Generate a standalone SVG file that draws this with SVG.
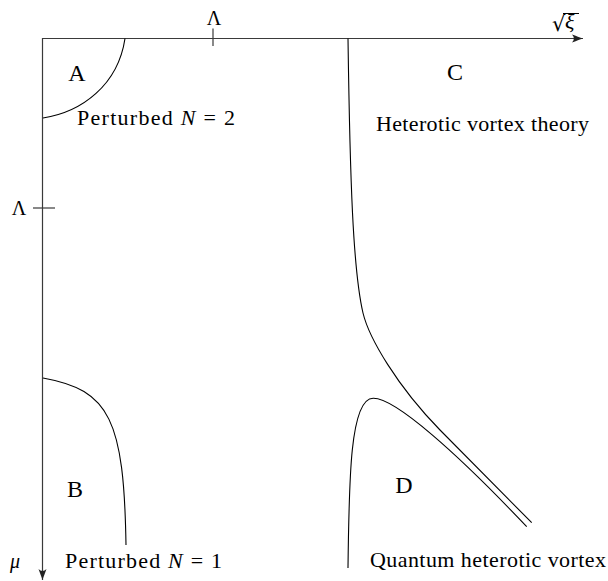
<svg xmlns="http://www.w3.org/2000/svg" width="608" height="581" viewBox="0 0 608 581">
<style>
.axis{stroke:#3a3a3a;stroke-width:1.2;fill:none}
.curve{stroke:#000;stroke-width:1.1;fill:none}
.reg{font-family:"Liberation Serif","Times New Roman",serif;font-size:24px;fill:#000;text-anchor:middle}
.lbl{font-family:"Liberation Serif","Times New Roman",serif;font-size:22px;fill:#000}
.sym{font-family:"Liberation Serif","Times New Roman",serif;font-size:20px;fill:#000;text-anchor:middle}
.it{font-style:italic}
</style>
<defs>
<marker id="arr" markerUnits="userSpaceOnUse" markerWidth="14" markerHeight="10" refX="12" refY="5" orient="auto" overflow="visible">
<path d="M12,5 C9,4 5,2.5 1,1 C3.5,3.5 3.5,6.5 1,9 C5,7.5 9,6 12,5 Z" fill="#222"/>
</marker>
</defs>
<g id="axes">
<line class="axis" x1="42.5" y1="38.5" x2="583" y2="38.5" marker-end="url(#arr)"/>
<line class="axis" x1="42.5" y1="38" x2="42.5" y2="580" marker-end="url(#arr)"/>
<line class="axis" x1="213" y1="28.5" x2="213" y2="46"/>
<line class="axis" x1="33" y1="208" x2="55" y2="208"/>
<text class="sym" x="214" y="25">Λ</text>
<text class="sym" x="19" y="215">Λ</text>
<text class="sym it" x="15" y="568">μ</text>
<g id="sqrtxi">
<text x="552" y="31" style="font-family:'DejaVu Serif',serif;font-size:21px">√</text>
<line x1="563" y1="13.5" x2="579" y2="13.5" stroke="#000" stroke-width="1"/>
<text class="it" x="565" y="29" style="font-family:'Liberation Serif',serif;font-size:22px">ξ</text>
</g>
</g>
<g id="connectors">
<path class="curve" d="M125,38.5 C118,85 82,112 43,118"/>
<path class="curve" d="M43,378 C110,390 124,420 126,545"/>
<path class="curve" d="M348,38.5 C350,180 353,270 363,313 C369,338 397,386 440,430 L531.7,522.7"/>
<path class="curve" d="M348,568 C349,480 350,398 373.3,398.3 C395,398 456.7,452.7 526.7,526.7"/>
</g>
<g id="regionA"><text class="reg" x="77" y="81">A</text>
<text class="lbl" x="77" y="125" textLength="158" lengthAdjust="spacing">Perturbed <tspan class="it">N</tspan> = 2</text></g>
<g id="regionB"><text class="reg" x="75" y="497">B</text>
<text class="lbl" x="65" y="568" textLength="157" lengthAdjust="spacing">Perturbed <tspan class="it">N</tspan> = 1</text></g>
<g id="regionC"><text class="reg" x="455" y="80">C</text>
<text class="lbl" x="376" y="131" textLength="213" lengthAdjust="spacing">Heterotic vortex theory</text></g>
<g id="regionD"><text class="reg" x="404" y="493">D</text>
<text class="lbl" x="370" y="567" textLength="236" lengthAdjust="spacing">Quantum heterotic vortex</text></g>
</svg>
